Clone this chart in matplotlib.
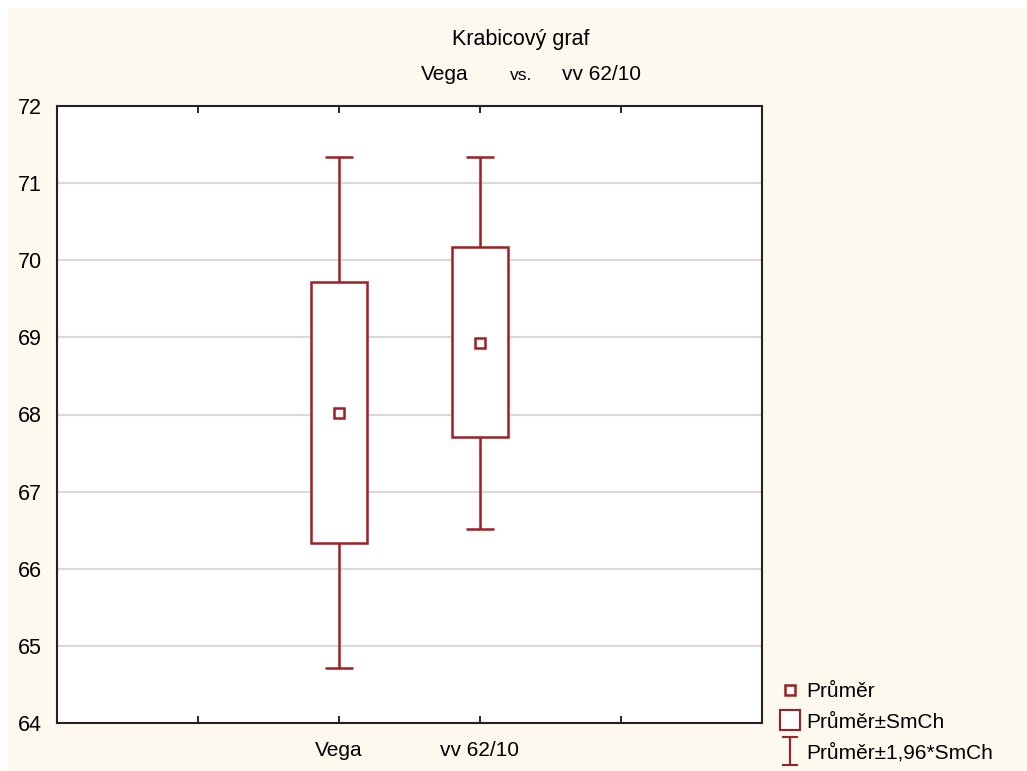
import matplotlib
matplotlib.use("Agg")
import matplotlib.pyplot as plt
from matplotlib.patches import Rectangle
from matplotlib.lines import Line2D
from matplotlib.path import Path

# data
groups = ["Vega", "vv 62/10"]
positions = [2, 3]
means = [68.02, 68.93]
se_low = [66.33, 67.71]
se_high = [69.72, 70.17]
ci_low = [64.71, 66.51]
ci_high = [71.34, 71.34]

red = "#9e1f24"
cream = "#fef9ef"
font = ["Liberation Sans", "DejaVu Sans"]

fig = plt.figure(figsize=(10.27, 7.71), dpi=100)
fig.patch.set_facecolor("white")
fig.patches.append(Rectangle((8 / 1027, 0), 1, 1 - 8 / 771, transform=fig.transFigure,
                             facecolor=cream, edgecolor="none", zorder=-10))

ax = fig.add_axes([57 / 1027, 1 - 723 / 771, 705 / 1027, 617 / 771])
ax.set_facecolor("white")

# whiskers (mean +- 1.96*SE)
yerr = [[m - lo for m, lo in zip(means, ci_low)], [hi - m for m, hi in zip(means, ci_high)]]
ax.errorbar(positions, means, yerr=yerr, fmt="none", ecolor=red, elinewidth=1.8,
            capsize=10, capthick=1.8, zorder=3)
# boxes (mean +- SE)
heights = [hi - lo for lo, hi in zip(se_low, se_high)]
ax.bar(positions, heights, bottom=se_low, width=0.4, facecolor="white",
       edgecolor=red, linewidth=1.8, zorder=4)
# means
ax.plot(positions, means, "s", ms=7, mfc="white", mec=red, mew=1.8, zorder=5)

ax.set_xlim(0, 5)
ax.set_ylim(64, 72)
ax.set_yticks(range(64, 73))
ax.yaxis.grid(True, color="#d9d9d9", linewidth=1.5)
ax.set_axisbelow(True)
ax.tick_params(axis="y", length=0, pad=11, labelsize=15.5)

ax.set_xticks([1, 2, 3, 4])
ax.set_xticklabels(["", groups[0], groups[1], ""])
ax.tick_params(axis="x", direction="in", length=5, width=1.2, top=True, labelsize=15, pad=13)
for lab in ax.get_xticklabels() + ax.get_yticklabels():
    lab.set_family(font)
for s in ax.spines.values():
    s.set_linewidth(1.5)
    s.set_color("#222222")

fig.text(521 / 1027, 1 - 40 / 771, "Krabicový graf", ha="center", va="center",
         fontsize=15.5, family=font)
fig.text(445 / 1027, 1 - 75 / 771, "Vega", ha="center", va="center", fontsize=15, family=font)
fig.text(521 / 1027, 1 - 75 / 771, "vs.", ha="center", va="center", fontsize=12.5, family=font)
fig.text(601 / 1027, 1 - 75 / 771, "vv 62/10", ha="center", va="center", fontsize=15, family=font)

# legend with Statistica-like symbols
ibeam = Path([(-0.55, -1), (0.55, -1), (0, -1), (0, 1), (-0.55, 1), (0.55, 1)],
             [Path.MOVETO, Path.LINETO, Path.MOVETO, Path.LINETO, Path.MOVETO, Path.LINETO])
h_mean = Line2D([], [], ls="none", marker="s", ms=7, mfc="white", mec=red, mew=1.8)
h_box = Line2D([], [], ls="none", marker="s", ms=15, mfc="white", mec=red, mew=1.5)
h_ci = Line2D([], [], ls="none", marker=ibeam, ms=20, mfc="none", mec=red, mew=1.5)
fig.legend([h_mean, h_box, h_ci], ["Průměr", "Průměr±SmCh", "Průměr±1,96*SmCh"],
           loc="lower left", bbox_to_anchor=(771 / 1027, 0.0), frameon=False,
           prop={"family": font, "size": 15}, handlelength=1.0, handletextpad=0.3,
           labelspacing=0.55, borderaxespad=0.0)

fig.savefig("out.png", dpi=100, facecolor=fig.get_facecolor())
